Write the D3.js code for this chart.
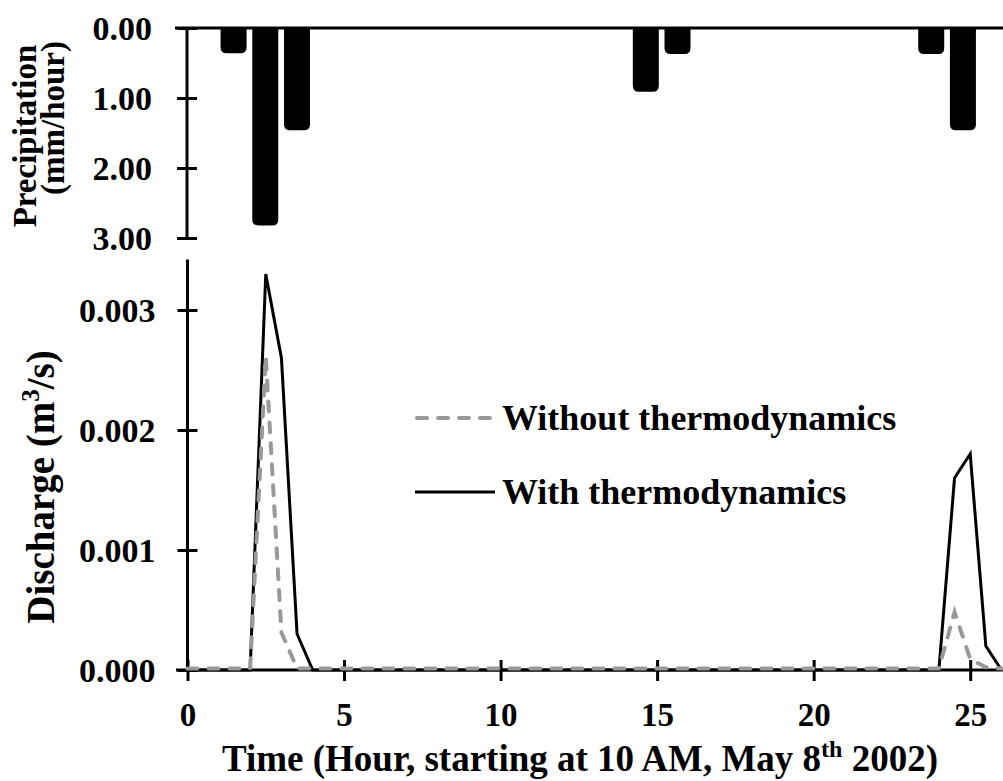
<!DOCTYPE html>
<html>
<head>
<meta charset="utf-8">
<script src="https://cdn.jsdelivr.net/npm/d3@7"></script>
<style>
  body { margin: 0; background: #fff; }
  text { font-family: "Liberation Serif", "Times New Roman", serif; font-weight: bold; fill: #000; }
</style>
</head>
<body>
<svg id="chart"></svg>
<script>
// Precipitation (hourly bars, mm/hour)
const precipHours = [1, 2, 3, 14, 15, 23, 24];
const precipValues = [0.36, 2.82, 1.46, 0.91, 0.37, 0.37, 1.46];
const precipTicks = [0, 1, 2, 3];

// Discharge (m3/s)
const withTime = [0, 2, 2.5, 3, 3.5, 4, 24, 24.5, 25, 25.5, 26];
const withValues = [0, 0, 0.0033, 0.0026, 0.0003, 0, 0, 0.0016, 0.0018, 0.0002, 0];
const withoutTime = [0, 2, 2.5, 3, 3.5, 24, 24.5, 25, 25.5, 26];
const withoutValues = [0, 0, 0.0026, 0.0003, 0, 0, 0.00047, 0.00008, 0.00001, 0];
const dischargeTicks = [0, 0.001, 0.002, 0.003];
const timeTicks = [0, 5, 10, 15, 20, 25];

const width = 1003, height = 781;
const svg = d3.select('#chart').attr('width', width).attr('height', height);

// ---------- top panel: precipitation ----------
const xBand = d3.scaleBand()
    .domain(d3.range(0, 26))
    .range([186, 1010.5])
    .paddingInner(0.18)
    .paddingOuter(0.09);

const yPrecip = d3.scaleLinear().domain([0, 3]).range([28, 238]);

// bars hang from the top axis, bottom corners rounded
const r = 6;
function barPath(x, w, y0, y1) {
    return `M${x},${y0}V${y1 - r}Q${x},${y1} ${x + r},${y1}H${x + w - r}Q${x + w},${y1} ${x + w},${y1 - r}V${y0}Z`;
}
svg.append('g').selectAll('path')
    .data(precipHours.map((h, i) => ({h, v: precipValues[i]})))
    .join('path')
    .attr('d', d => barPath(xBand(d.h), xBand.bandwidth(), yPrecip(0), yPrecip(d.v)))
    .attr('fill', '#000');

const yPrecipAxis = d3.axisLeft(yPrecip)
    .tickValues(precipTicks)
    .tickFormat(d3.format('.2f'))
    .tickSize(10)
    .tickPadding(25);
const gp = svg.append('g').attr('transform', 'translate(187,0)').call(yPrecipAxis);
gp.select('.domain').remove();
gp.selectAll('.tick line').attr('x1', -10).attr('x2', 10).attr('stroke', '#000').attr('stroke-width', 3);
gp.selectAll('.tick text').attr('font-size', 34).attr('dy', '0.34em');
gp.append('line').attr('y1', yPrecip(0)).attr('y2', yPrecip(3)).attr('stroke', '#000').attr('stroke-width', 3);
svg.append('line')
    .attr('x1', 175).attr('x2', width)
    .attr('y1', yPrecip(0)).attr('y2', yPrecip(0))
    .attr('stroke', '#000').attr('stroke-width', 3);

svg.append('text')
    .attr('transform', 'translate(36,136) rotate(-90)')
    .attr('text-anchor', 'middle').attr('font-size', 33)
    .text('Precipitation');
svg.append('text')
    .attr('transform', 'translate(64,118) rotate(-90)')
    .attr('text-anchor', 'middle').attr('font-size', 33)
    .text('(mm/hour)');

// ---------- bottom panel: discharge ----------
const x = d3.scaleLinear().domain([0, 26]).range([187.5, 1001.5]);
const y = d3.scaleLinear().domain([0, 0.00342]).range([670, 259.6]);

const xAxis = d3.axisBottom(x).tickValues(timeTicks).tickSize(11).tickPadding(22);
const gx = svg.append('g').attr('transform', 'translate(0,670)').call(xAxis);
gx.select('.domain').remove();
gx.selectAll('.tick line').attr('y1', -10).attr('y2', 11).attr('stroke', '#000').attr('stroke-width', 3);
gx.selectAll('.tick text').attr('font-size', 33);
gx.append('line').attr('x1', 176).attr('x2', width).attr('stroke', '#000').attr('stroke-width', 3);

const yAxis = d3.axisLeft(y).tickValues(dischargeTicks).tickFormat(d3.format('.3f')).tickSize(10).tickPadding(22);
const gy = svg.append('g').attr('transform', 'translate(187.5,0)').call(yAxis);
gy.select('.domain').remove();
gy.selectAll('.tick line').attr('x1', -10).attr('x2', 10).attr('stroke', '#000').attr('stroke-width', 3);
gy.selectAll('.tick text').attr('font-size', 34).attr('dy', '0.34em');
gy.append('line').attr('y1', y(0)).attr('y2', y(0.00342)).attr('stroke', '#000').attr('stroke-width', 3);

const line = d3.line().x(d => x(d[0])).y(d => y(d[1]));

svg.append('path')
    .datum(withTime.map((t, i) => [t, withValues[i]]))
    .attr('d', line)
    .attr('fill', 'none').attr('stroke', '#000').attr('stroke-width', 3)
    .attr('stroke-linejoin', 'miter');

svg.append('path')
    .datum(withoutTime.map((t, i) => [t, withoutValues[i]]))
    .attr('d', line)
    .attr('transform', 'translate(0,-1.5)')
    .attr('fill', 'none').attr('stroke', '#999').attr('stroke-width', 4)
    .attr('stroke-dasharray', '10,11').attr('stroke-linecap', 'round');

// legend
const legend = svg.append('g');
legend.append('line').attr('x1', 417).attr('x2', 495).attr('y1', 418).attr('y2', 418)
    .attr('stroke', '#999').attr('stroke-width', 4)
    .attr('stroke-dasharray', '10,11').attr('stroke-linecap', 'round');
legend.append('text').attr('x', 502).attr('y', 430).attr('font-size', 36).text('Without thermodynamics');
legend.append('line').attr('x1', 415).attr('x2', 495).attr('y1', 492).attr('y2', 492)
    .attr('stroke', '#000').attr('stroke-width', 3);
legend.append('text').attr('x', 502).attr('y', 504).attr('font-size', 36).text('With thermodynamics');

// axis titles
const yt = svg.append('text')
    .attr('transform', 'translate(54,487) rotate(-90)')
    .attr('text-anchor', 'middle').attr('font-size', 39);
yt.append('tspan').text('Discharge (m');
yt.append('tspan').attr('font-size', 25).attr('dy', -15).text('3');
yt.append('tspan').attr('dy', 15).text('/s)');

const xt = svg.append('text')
    .attr('x', 580).attr('y', 771)
    .attr('text-anchor', 'middle').attr('font-size', 37);
xt.append('tspan').text('Time (Hour, starting at 10 AM, May 8');
xt.append('tspan').attr('font-size', 24).attr('dy', -14).text('th');
xt.append('tspan').attr('dy', 14).text(' 2002)');
</script>
</body>
</html>
